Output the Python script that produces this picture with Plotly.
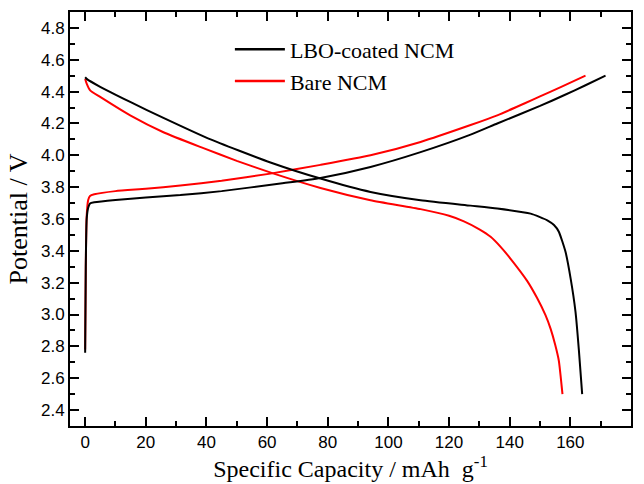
import plotly.graph_objects as go

# LBO-coated NCM: charge branch
lbo_chg_x = [0, 0.2, 0.5, 1.0, 1.6, 3, 10, 20, 31.4, 45, 64.4, 77.6, 94.1, 110.6, 127.1, 135.9, 150, 157.9, 165, 171.6]
lbo_chg_v = [2.76, 3.30, 3.60, 3.67, 3.697, 3.705, 3.72, 3.735, 3.75, 3.775, 3.823, 3.858, 3.927, 4.02, 4.13, 4.20, 4.31, 4.377, 4.44, 4.50]
# LBO-coated NCM: discharge branch
lbo_dis_x = [0, 0.5, 4.95, 14.85, 25.8, 40.7, 61.1, 77.6, 94.1, 110.6, 127.1, 135.9, 146.9, 152.4, 154.6, 156.2, 158.4, 160.1, 161.7, 162.8, 163.9]
lbo_dis_v = [4.49, 4.48, 4.43, 4.335, 4.235, 4.105, 3.955, 3.854, 3.77, 3.718, 3.684, 3.666, 3.634, 3.592, 3.562, 3.52, 3.394, 3.226, 3.017, 2.78, 2.50]
# Bare NCM: charge branch
bare_chg_x = [0, 0.2, 0.5, 1.0, 1.6, 3, 10, 20, 31.4, 45, 61.1, 77.6, 94.1, 110.6, 127.1, 135.9, 145, 150, 157, 165]
bare_chg_v = [2.78, 3.30, 3.62, 3.72, 3.745, 3.755, 3.775, 3.79, 3.81, 3.84, 3.885, 3.94, 4.00, 4.084, 4.19, 4.251, 4.327, 4.37, 4.43, 4.50]
# Bare NCM: discharge branch
bare_dis_x = [0, 0.5, 1.65, 4.95, 14.85, 25.8, 39, 50, 62.2, 77.6, 94.1, 110.6, 120, 124.9, 130, 133.7, 137, 140.3, 145.8, 149, 151.8, 153.5, 155, 156.2, 157.4]
bare_dis_v = [4.48, 4.45, 4.408, 4.367, 4.251, 4.145, 4.045, 3.965, 3.885, 3.795, 3.718, 3.662, 3.62, 3.585, 3.535, 3.488, 3.425, 3.35, 3.21, 3.105, 2.996, 2.91, 2.81, 2.71, 2.50]

x_ticks = [0, 20, 40, 60, 80, 100, 120, 140, 160, 180]
y_ticks = [2.4, 2.6, 2.8, 3.0, 3.2, 3.4, 3.6, 3.8, 4.0, 4.2, 4.4, 4.6, 4.8]

line_shape = dict(shape="spline", smoothing=0.5)

fig = go.Figure()
fig.add_trace(go.Scatter(x=bare_chg_x, y=bare_chg_v, mode="lines", line=dict(color="#ff0000", width=2, **line_shape),
                         name="Bare NCM", legendgroup="bare", showlegend=False))
fig.add_trace(go.Scatter(x=bare_dis_x, y=bare_dis_v, mode="lines", line=dict(color="#ff0000", width=2, **line_shape),
                         name="Bare NCM", legendgroup="bare", showlegend=False))
fig.add_trace(go.Scatter(x=lbo_chg_x, y=lbo_chg_v, mode="lines", line=dict(color="#000000", width=2, **line_shape),
                         name="LBO-coated NCM", legendgroup="lbo", showlegend=False))
fig.add_trace(go.Scatter(x=lbo_dis_x, y=lbo_dis_v, mode="lines", line=dict(color="#000000", width=2, **line_shape),
                         name="LBO-coated NCM", legendgroup="lbo", showlegend=False))
# legend entries
fig.add_trace(go.Scatter(x=[None], y=[None], mode="lines", line=dict(color="#000000", width=2.5), name="LBO-coated NCM"))
fig.add_trace(go.Scatter(x=[None], y=[None], mode="lines", line=dict(color="#ff0000", width=2.5), name="Bare NCM"))

axis_common = dict(
    showline=True, linecolor="black", linewidth=2, mirror="ticks",
    ticks="inside", tickcolor="black", tickwidth=1.5, ticklen=9,
    showgrid=False, zeroline=False, automargin=False,
    tickfont=dict(family="Liberation Sans, Arial", size=17, color="black"),
)

fig.update_xaxes(range=[-5, 180], tickvals=x_ticks, ticktext=[str(v) for v in x_ticks],
                 minor=dict(dtick=10, tick0=0, ticks="inside", ticklen=5, tickcolor="black", tickwidth=1.5),
                 title=dict(text="Specific Capacity / mAh  g<sup>-1</sup>", standoff=2,
                            font=dict(family="Liberation Serif, Times New Roman", size=24, color="black")),
                 **axis_common)
fig.update_yaxes(range=[2.3, 4.9], tickvals=y_ticks, ticktext=[f"{v:.1f}" for v in y_ticks],
                 minor=dict(dtick=0.1, tick0=2.3, ticks="inside", ticklen=5, tickcolor="black", tickwidth=1.5),
                 title=dict(text="Potential / V", standoff=6,
                            font=dict(family="Liberation Serif, Times New Roman", size=26, color="black")),
                 **axis_common)

fig.update_layout(
    width=644, height=484,
    margin=dict(l=70, r=13, t=12, b=58),
    paper_bgcolor="white", plot_bgcolor="white",
    legend=dict(x=0.285, y=0.96, xanchor="left", yanchor="top", bgcolor="rgba(0,0,0,0)",
                font=dict(family="Liberation Serif, Times New Roman", size=22, color="black"),
                itemwidth=50, tracegroupgap=0),
)

fig.write_html("out.html", config={"displayModeBar": False},
               post_script="document.body.style.margin='0';document.body.style.overflow='hidden';")
